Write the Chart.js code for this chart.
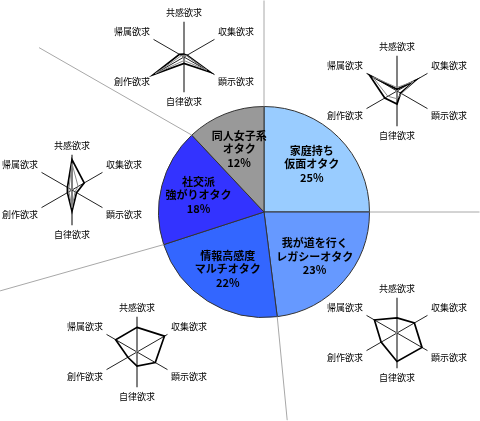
<!DOCTYPE html>
<html>
<head>
<meta charset="utf-8">
<script src="https://cdn.jsdelivr.net/npm/chart.js@4"></script>
<style>
body { margin: 0; background: #fff; }
#wrap { position: relative; width: 480px; height: 421px; overflow: hidden; }
canvas { position: absolute; }
</style>
</head>
<body>
<div id="wrap">
  <canvas id="pie" width="480" height="421" style="left:0;top:0"></canvas>
  <canvas id="r0" width="140" height="100" style="left:327px;top:41px"></canvas>
  <canvas id="r1" width="140" height="100" style="left:327px;top:283px"></canvas>
  <canvas id="r2" width="140" height="100" style="left:67px;top:302px"></canvas>
  <canvas id="r3" width="140" height="100" style="left:2px;top:140px"></canvas>
  <canvas id="r4" width="140" height="100" style="left:114px;top:7px"></canvas>
</div>
<script>
// segments, clockwise from the top
const segmentNames = [
    ['家庭持ち', '仮面オタク'],
    ['我が道を行く', 'レガシーオタク'],
    ['情報高感度', 'マルチオタク'],
    ['社交派', '強がりオタク'],
    ['同人女子系', 'オタク']
];
const shares = [25, 23, 22, 18, 12];
const sliceColors = ['#99ccff', '#6699ff', '#3366ff', '#3333ff', '#999999'];

// radar axes
const needLabels = ['共感欲求', '収集欲求', '顕示欲求', '自律欲求', '創作欲求', '帰属欲求'];

// radar values per segment (thick line / thin line)
const kateiValues = [0.05, 0.6, 0.12, 0.37, 0.4, 0.9];
const kateiSub = [0.1, 0.55, 0.15, 0.22, 0.3, 0.8];
const legacyValues = [0.43, 0.57, 0.82, 0.81, 0.52, 0.74];
const multiValues = [0.7, 0.9, 0.6, 0.4, 0.3, 0.7];
const shakoValues = [0.86, 0.4, 0.15, 0.6, 0.15, 0.15];
const shakoSub = [0.75, 0.2, 0.1, 0.5, 0.1, 0.1];
const doujinValues = [0.08, 0.1, 0.85, 0.18, 1.0, 0.15];
const doujinSub = [0.05, 0.08, 0.75, 0.1, 0.95, 0.08];

// grey dividers: length out from the rim and turn (degrees) off the slice edge
const leaderLength = [106, 110, 104, 170, 176];
const leaderTurn = [0, 0, 1.7, 2.2, -17];

const pieText = {
    id: 'pieText',
    afterDatasetsDraw(chart) {
        const ctx = chart.ctx;
        const arcs = chart.getDatasetMeta(0).data;
        ctx.save();

        //dividers
        ctx.strokeStyle = '#a8a8a8';
        ctx.lineWidth = 1;
        arcs.forEach((arc, i) => {
            const a = arc.startAngle;
            const x0 = arc.x + Math.cos(a) * arc.outerRadius;
            const y0 = arc.y + Math.sin(a) * arc.outerRadius;
            const b = a + leaderTurn[i] * Math.PI / 180;
            ctx.beginPath();
            ctx.moveTo(x0, y0);
            ctx.lineTo(x0 + Math.cos(b) * leaderLength[i], y0 + Math.sin(b) * leaderLength[i]);
            ctx.stroke();
        });

        //labels
        ctx.fillStyle = '#000';
        ctx.textAlign = 'center';
        ctx.textBaseline = 'middle';
        ctx.font = 'bold 11px "Noto Sans CJK JP"';
        arcs.forEach((arc, i) => {
            const mid = (arc.startAngle + arc.endAngle) / 2;
            const r = arc.outerRadius * 0.64;
            const lines = [...segmentNames[i], shares[i] + '%'];
            const cx = arc.x + Math.cos(mid) * r;
            const cy = arc.y + Math.sin(mid) * r;
            lines.forEach((t, k) => ctx.fillText(t, cx, cy + (k - (lines.length - 1) / 2) * 13.5));
        });
        ctx.restore();
    }
};

new Chart(document.getElementById('pie'), {
    type: 'pie',
    data: {
        labels: segmentNames.map(n => n.join('')),
        datasets: [{
            data: shares,
            backgroundColor: sliceColors,
            borderColor: '#333',
            borderWidth: 1
        }]
    },
    options: {
        responsive: false,
        animation: false,
        layout: { padding: { left: 158, right: 110, top: 106, bottom: 103 } },
        plugins: { legend: { display: false }, tooltip: { enabled: false } }
    },
    plugins: [pieText]
});

function makeRadar(id, main, sub) {
    const datasets = [];
    if (sub) {
        datasets.push({ data: sub, borderColor: '#8a8a8a', borderWidth: 1, fill: false, pointRadius: 0 });
    }
    datasets.push({ data: main, borderColor: '#000', borderWidth: 1.7, fill: false, pointRadius: 0 });

    new Chart(document.getElementById(id), {
        type: 'radar',
        data: { labels: needLabels, datasets: datasets },
        options: {
            responsive: false,
            animation: false,
            elements: { line: { tension: 0 } },
            plugins: { legend: { display: false }, tooltip: { enabled: false } },
            scales: {
                r: {
                    min: 0,
                    max: 1,
                    ticks: { display: false },
                    grid: { display: false },
                    angleLines: {
                        color: c => (c.index % 3 === 0 ? '#808080' : '#222'),
                        lineWidth: c => (c.index % 3 === 0 ? 2 : 1)
                    },
                    pointLabels: {
                        font: { family: '"Noto Sans CJK JP"', size: 9 },
                        color: '#000',
                        padding: 4
                    }
                }
            }
        }
    });
}

makeRadar('r0', kateiValues, kateiSub);
makeRadar('r1', legacyValues, null);
makeRadar('r2', multiValues, null);
makeRadar('r3', shakoValues, shakoSub);
makeRadar('r4', doujinValues, doujinSub);
</script>
</body>
</html>
